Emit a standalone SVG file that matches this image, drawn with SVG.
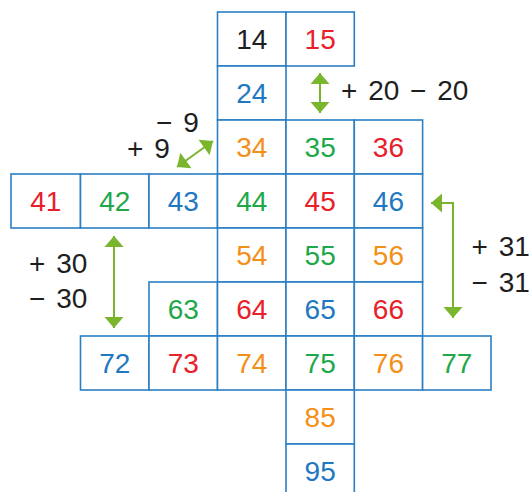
<svg xmlns="http://www.w3.org/2000/svg" width="529" height="492" viewBox="0 0 529 492">
<style>
.c rect{fill:#fff;stroke:#2a7fc4;stroke-width:1.6}
text{font-family:"Liberation Sans",Arial,sans-serif;font-size:28px}
.c text{text-anchor:middle}
.k{fill:#1e1e1e}.r{fill:#e8202a}.b{fill:#1f78c1}.g{fill:#1fa84a}.o{fill:#f39019}
.a{fill:none;stroke:#7ab52e;stroke-width:2;marker-start:url(#h);marker-end:url(#h)}
</style>
<defs>
<marker id="h" markerUnits="userSpaceOnUse" markerWidth="12" markerHeight="20" viewBox="0 -10 11 20" refX="11" refY="0" orient="auto-start-reverse"><path d="M0,-9.5 L11,0 L0,9.5 Z" fill="#7ab52e"/></marker>
</defs>
<g id="cells" class="c">
<g id="n14"><rect x="217.5" y="12" width="68.5" height="54"/><text x="251.75" y="49" class="k">14</text></g>
<g id="n15"><rect x="286" y="12" width="68.3" height="54"/><text x="320.15" y="49" class="r">15</text></g>
<g id="n24"><rect x="217.5" y="66" width="68.5" height="54"/><text x="251.75" y="103" class="b">24</text></g>
<g id="n34"><rect x="217.5" y="120" width="68.5" height="54"/><text x="251.75" y="157" class="o">34</text></g>
<g id="n35"><rect x="286" y="120" width="68.3" height="54"/><text x="320.15" y="157" class="g">35</text></g>
<g id="n36"><rect x="354.3" y="120" width="68.3" height="54"/><text x="388.45" y="157" class="r">36</text></g>
<g id="n41"><rect x="11" y="174" width="69.5" height="54"/><text x="45.75" y="211" class="r">41</text></g>
<g id="n42"><rect x="80.5" y="174" width="68.5" height="54"/><text x="114.75" y="211" class="g">42</text></g>
<g id="n43"><rect x="149" y="174" width="68.5" height="54"/><text x="183.25" y="211" class="b">43</text></g>
<g id="n44"><rect x="217.5" y="174" width="68.5" height="54"/><text x="251.75" y="211" class="g">44</text></g>
<g id="n45"><rect x="286" y="174" width="68.3" height="54"/><text x="320.15" y="211" class="r">45</text></g>
<g id="n46"><rect x="354.3" y="174" width="68.3" height="54"/><text x="388.45" y="211" class="b">46</text></g>
<g id="n54"><rect x="217.5" y="228" width="68.5" height="54"/><text x="251.75" y="265" class="o">54</text></g>
<g id="n55"><rect x="286" y="228" width="68.3" height="54"/><text x="320.15" y="265" class="g">55</text></g>
<g id="n56"><rect x="354.3" y="228" width="68.3" height="54"/><text x="388.45" y="265" class="o">56</text></g>
<g id="n63"><rect x="149" y="282" width="68.5" height="54"/><text x="183.25" y="319" class="g">63</text></g>
<g id="n64"><rect x="217.5" y="282" width="68.5" height="54"/><text x="251.75" y="319" class="r">64</text></g>
<g id="n65"><rect x="286" y="282" width="68.3" height="54"/><text x="320.15" y="319" class="b">65</text></g>
<g id="n66"><rect x="354.3" y="282" width="68.3" height="54"/><text x="388.45" y="319" class="r">66</text></g>
<g id="n72"><rect x="80.5" y="336" width="68.5" height="54"/><text x="114.75" y="373" class="b">72</text></g>
<g id="n73"><rect x="149" y="336" width="68.5" height="54"/><text x="183.25" y="373" class="r">73</text></g>
<g id="n74"><rect x="217.5" y="336" width="68.5" height="54"/><text x="251.75" y="373" class="o">74</text></g>
<g id="n75"><rect x="286" y="336" width="68.3" height="54"/><text x="320.15" y="373" class="g">75</text></g>
<g id="n76"><rect x="354.3" y="336" width="68.3" height="54"/><text x="388.45" y="373" class="o">76</text></g>
<g id="n77"><rect x="422.6" y="336" width="68.4" height="54"/><text x="456.8" y="373" class="g">77</text></g>
<g id="n85"><rect x="286" y="390" width="68.3" height="54"/><text x="320.15" y="427" class="o">85</text></g>
<g id="n95"><rect x="286" y="444" width="68.3" height="54"/><text x="320.15" y="481" class="b">95</text></g>
</g>
<g id="connectors">
<path class="a" d="M320,73 V113"/>
<path class="a" d="M114,236 V328"/>
<path class="a" d="M431,203 H453 V318"/>
<path class="a" d="M177,167 L213,141"/>
</g>
<g id="labels" class="k">
<text x="341" y="100" word-spacing="3">+ 20 − 20</text>
<text x="156" y="131.5" word-spacing="3">− 9</text>
<text x="127" y="158" word-spacing="3">+ 9</text>
<text x="29" y="273" word-spacing="3">+ 30</text>
<text x="29" y="308" word-spacing="3">− 30</text>
<text x="471.5" y="256" word-spacing="3">+ 31</text>
<text x="471.5" y="291.5" word-spacing="3">− 31</text>
</g>
</svg>
